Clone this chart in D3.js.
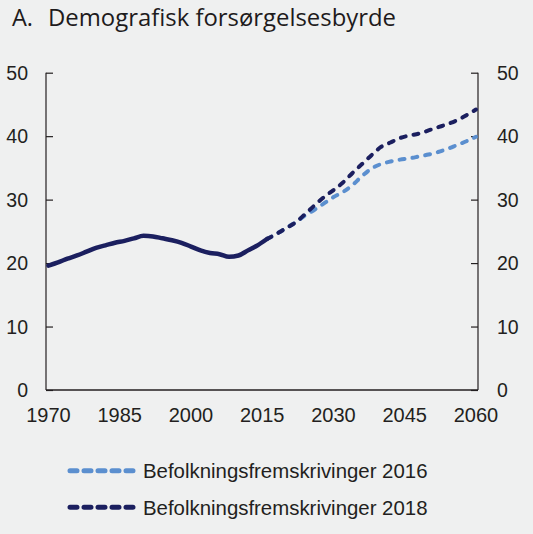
<!DOCTYPE html>
<html><head><meta charset="utf-8">
<script src="https://cdn.jsdelivr.net/npm/d3@7/dist/d3.min.js"></script>
<style>
html,body{margin:0;padding:0;background:#eff0f0;}
svg{display:block;}
</style></head><body>
<svg id="c" width="533" height="534"></svg>
<script>
const titleLetter = "A.";
const titleText = "Demografisk forsørgelsesbyrde";
const yTicks = [0, 10, 20, 30, 40, 50];
const xTicks = [1970, 1985, 2000, 2015, 2030, 2045, 2060];

const histYears = [1970,1972,1974,1976,1978,1980,1982,1984,1986,1988,1990,1992,1994,1996,1998,2000,2002,2004,2006,2008,2010,2012,2014,2016];
const histValues = [19.6,20.1,20.7,21.2,21.8,22.4,22.8,23.2,23.5,23.9,24.3,24.2,23.9,23.6,23.2,22.6,22.0,21.6,21.4,21.0,21.2,22.0,22.8,23.8];

const projYears = [2016,2018,2020,2022,2024,2026,2028,2030,2032,2034,2036,2038,2040,2042,2044,2046,2048,2050,2052,2054,2056,2058,2060];
const proj2016 = [23.8,24.6,25.5,26.4,27.5,28.4,29.4,30.4,31.2,32.3,33.7,34.9,35.6,36.0,36.3,36.5,36.8,37.1,37.5,38.0,38.6,39.2,39.9];
const proj2018 = [23.8,24.6,25.5,26.4,27.7,29.1,30.4,31.5,32.7,34.2,35.6,37.0,38.3,39.0,39.7,40.1,40.4,40.9,41.4,41.9,42.5,43.3,44.2];

const seriesNames = ["Befolkningsfremskrivinger 2016", "Befolkningsfremskrivinger 2018"];
const colLight = "#5b8fcf", colDark = "#1b1f5f";

const svg = d3.select("#c");
const pLeft = 46, pRight = 478, pTop = 72.7, pBottom = 390;
const x = d3.scaleLinear().domain([1970, 2060]).range([48.5, 476]);
const y = d3.scaleLinear().domain([0, 50]).range([pBottom, pTop]);

// title
svg.append("text").attr("x", 12).attr("y", 26).text(titleLetter)
  .attr("font-family", "Open Sans").attr("font-weight", 500).attr("font-size", 23.5).attr("fill", "#1e1b1c");
svg.append("text").attr("x", 48).attr("y", 26).text(titleText)
  .attr("font-family", "Open Sans").attr("font-weight", 500).attr("font-size", 23.5).attr("fill", "#1e1b1c")
  .attr("textLength", 348).attr("lengthAdjust", "spacingAndGlyphs");

// axes
const axL = d3.axisRight(y).tickValues(yTicks).tickSize(7).tickFormat("");
svg.append("g").attr("transform", `translate(${pLeft},0)`).call(axL)
  .call(g => g.selectAll("path,line").attr("stroke", "#231f20").attr("stroke-width", 1.2));
const axR = d3.axisLeft(y).tickValues(yTicks).tickSize(7).tickFormat("");
svg.append("g").attr("transform", `translate(${pRight},0)`).call(axR)
  .call(g => g.selectAll("path,line").attr("stroke", "#231f20").attr("stroke-width", 1.2));
svg.selectAll("g .domain").attr("d", `M0,${pTop}V${pBottom}`);
svg.append("line").attr("x1", pLeft).attr("x2", pRight).attr("y1", pBottom).attr("y2", pBottom)
  .attr("stroke", "#231f20").attr("stroke-width", 1.4);

const lblFont = "Liberation Sans";
svg.append("g").selectAll("text").data(yTicks).join("text")
  .attr("x", 28).attr("y", d => y(d)).attr("dy", "0.36em").attr("text-anchor", "end")
  .attr("font-family", lblFont).attr("font-size", 19.5).attr("fill", "#231f20").text(d => d);
svg.append("g").selectAll("text").data(yTicks).join("text")
  .attr("x", 497).attr("y", d => y(d)).attr("dy", "0.36em").attr("text-anchor", "start")
  .attr("font-family", lblFont).attr("font-size", 19.5).attr("fill", "#231f20").text(d => d);
svg.append("g").selectAll("text").data(xTicks).join("text")
  .attr("x", d => x(d)).attr("y", 422).attr("text-anchor", "middle")
  .attr("font-family", lblFont).attr("font-size", 20).attr("fill", "#231f20").text(d => d);

// lines
const line = d3.line().curve(d3.curveMonotoneX).x(d => x(d[0])).y(d => y(d[1]));
svg.append("path").datum(projYears.map((yr, i) => [yr, proj2016[i]]))
  .attr("d", line).attr("fill", "none").attr("stroke", colLight).attr("stroke-width", 4)
  .attr("stroke-linecap", "round").attr("stroke-dasharray", "5,8");
svg.append("path").datum(projYears.map((yr, i) => [yr, proj2018[i]]))
  .attr("d", line).attr("fill", "none").attr("stroke", colDark).attr("stroke-width", 4)
  .attr("stroke-linecap", "round").attr("stroke-dasharray", "5,8");
svg.append("path").datum(histYears.map((yr, i) => [yr, histValues[i]]))
  .attr("d", line).attr("fill", "none").attr("stroke", colDark).attr("stroke-width", 4.5)
  .attr("stroke-linecap", "round");

// legend
const leg = svg.append("g");
[colLight, colDark].forEach((c, i) => {
  const ly = 470.7 + i * 36.5;
  leg.append("line").attr("x1", 70).attr("x2", 136).attr("y1", ly).attr("y2", ly)
    .attr("stroke", c).attr("stroke-width", 5).attr("stroke-linecap", "round")
    .attr("stroke-dasharray", "7,7");
  leg.append("text").attr("x", 143).attr("y", ly).attr("dy", "0.36em")
    .attr("font-family", lblFont).attr("font-size", 20.4).attr("fill", "#231f20")
    .text(seriesNames[i]);
});
</script>
</body></html>
